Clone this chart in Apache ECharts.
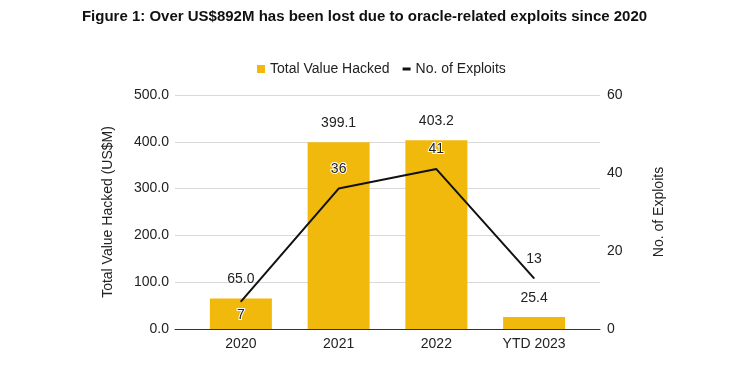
<!DOCTYPE html>
<html>
<head>
<meta charset="utf-8">
<script src="https://cdn.jsdelivr.net/npm/echarts@6/dist/echarts.min.js"></script>
<style>
html,body{margin:0;padding:0;background:#fff;}
#chart{width:729px;height:369px;}
</style>
</head>
<body>
<div id="chart"></div>
<script>
var titleText = "Figure 1: Over US$892M has been lost due to oracle-related exploits since 2020";
var categories = ["2020", "2021", "2022", "YTD 2023"];
var valueHacked = [65.0, 399.1, 403.2, 25.4];
var exploits = [7, 36, 41, 13];
var leftTicks = [0, 100, 200, 300, 400, 500];
var rightTicks = [0, 20, 40, 60];

var chart = echarts.init(document.getElementById('chart'), null, {renderer: 'canvas'});
var font = 'Liberation Sans, Arial, sans-serif';
var idx = categories.map(function (c, i) { return i; });

var option = {
  animation: false,
  backgroundColor: '#fff',
  textStyle: {fontFamily: font},
  title: {
    text: titleText,
    left: 'center', top: 4,
    textStyle: {fontFamily: font, fontWeight: 'bold', fontSize: 15, color: '#111'}
  },
  legend: {
    top: 57, left: 252,
    itemGap: 13,
    textStyle: {fontFamily: font, fontSize: 14, color: '#222'},
    data: [
      {name: 'Total Value Hacked', icon: 'rect', itemStyle: {color: '#F0B90B'}},
      {name: 'No. of Exploits', icon: 'path://M0,0 H8 V3 H0 Z', itemStyle: {color: '#111'}}
    ],
    itemWidth: 8, itemHeight: 8
  },
  grid: {left: 175, right: 129, top: 95, bottom: 40},
  xAxis: {
    type: 'value',
    min: -0.674, max: 3.674,
    axisLine: {show: true, onZero: false, lineStyle: {color: '#333', width: 1}},
    axisTick: {show: false},
    splitLine: {show: false},
    axisLabel: {
      customValues: idx,
      margin: 8,
      fontSize: 14, color: '#222', fontFamily: font,
      formatter: function (v) { return categories[Math.round(v)]; }
    }
  },
  yAxis: [{
    type: 'value', min: leftTicks[0], max: leftTicks[leftTicks.length - 1], interval: 100,
    name: 'Total Value Hacked (US$M)', nameLocation: 'middle', nameGap: 60,
    nameTextStyle: {fontSize: 14, color: '#222', fontFamily: font},
    axisLine: {show: false}, axisTick: {show: false},
    axisLabel: {fontSize: 14, color: '#222', margin: 6, formatter: function (v) { return v.toFixed(1); }},
    splitLine: {lineStyle: {color: '#d9d9d9', width: 1}}
  }, {
    type: 'value', min: rightTicks[0], max: rightTicks[rightTicks.length - 1], interval: 20,
    position: 'right',
    name: 'No. of Exploits', nameLocation: 'middle', nameGap: 52, nameRotate: 90,
    nameTextStyle: {fontSize: 14, color: '#222', fontFamily: font},
    axisLine: {show: false}, axisTick: {show: false},
    axisLabel: {fontSize: 14, color: '#222', margin: 7},
    splitLine: {show: false}
  }],
  series: [{
    name: 'Total Value Hacked',
    type: 'bar',
    barWidth: 62,
    itemStyle: {color: '#F0B90B'},
    data: valueHacked.map(function (v, i) { return [i, v]; }),
    label: {
      show: true, position: 'top', distance: 12,
      fontSize: 14, color: '#222', fontFamily: font,
      formatter: function (p) { return p.value[1].toFixed(1); }
    },
    z: 2
  }, {
    name: 'No. of Exploits',
    type: 'line',
    yAxisIndex: 1,
    symbol: 'circle',
    symbolSize: 1,
    showSymbol: true,
    lineStyle: {color: '#111', width: 2},
    itemStyle: {color: '#111'},
    data: exploits.map(function (v, i) {
      return {value: [i, v], label: {position: i === 0 ? 'bottom' : 'top', distance: i === 0 ? 6 : 12}};
    }),
    label: {
      show: true,
      fontSize: 14, color: '#222', fontFamily: font,
      textBorderColor: '#fff', textBorderWidth: 2,
      formatter: function (p) { return p.value[1]; }
    },
    z: 3
  }]
};
chart.setOption(option);
</script>
</body>
</html>
